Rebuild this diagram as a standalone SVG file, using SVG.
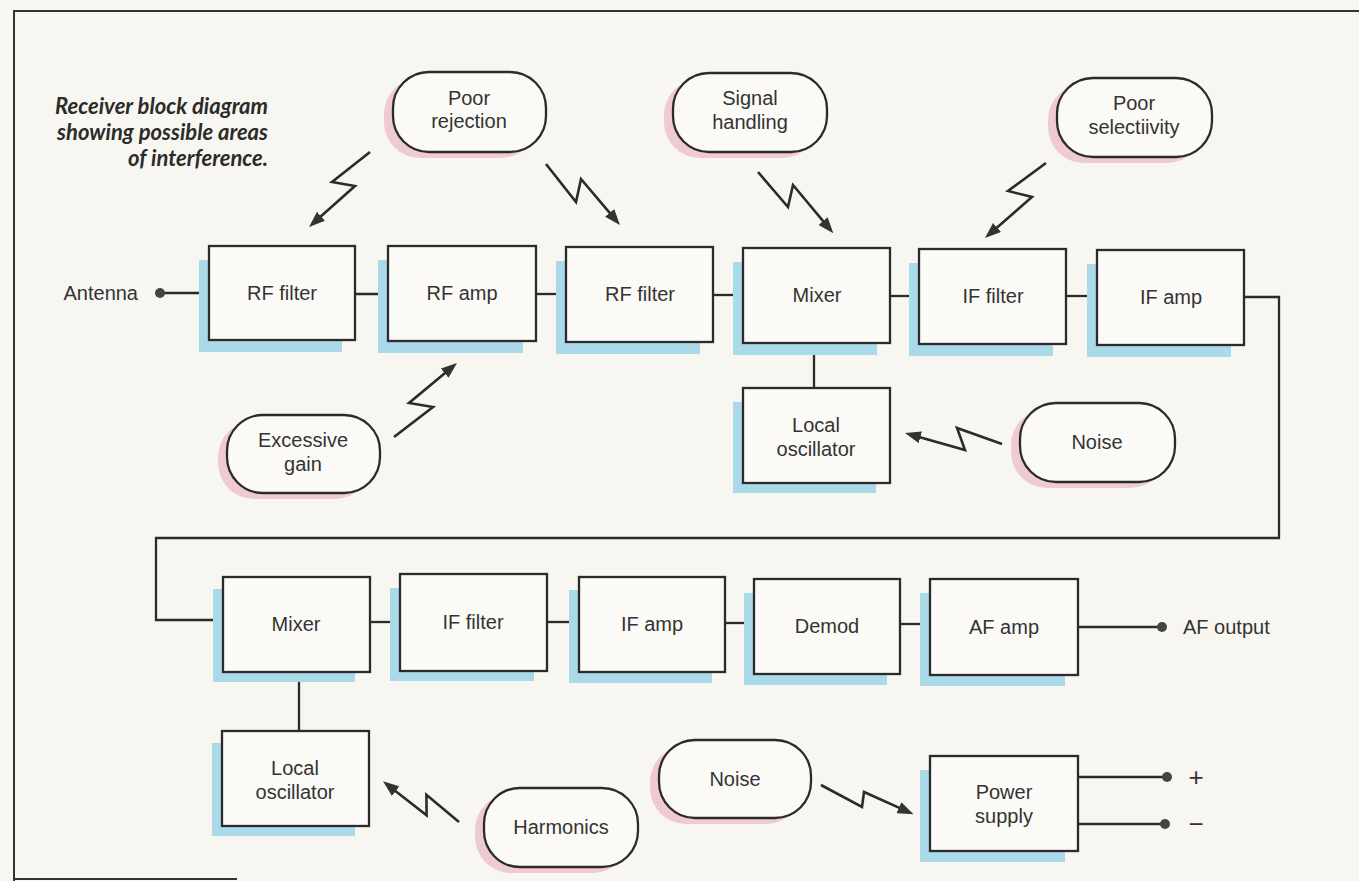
<svg xmlns="http://www.w3.org/2000/svg" width="1359" height="881" viewBox="0 0 1359 881">
<defs>
<marker id="ah" viewBox="0 0 16 12" refX="6" refY="6" markerWidth="16" markerHeight="12" markerUnits="userSpaceOnUse" orient="auto">
<path d="M0,0 L16,6 L0,12 z" fill="#333"/>
</marker>
</defs>
<style>
.bg{fill:#f8f6f1}
.frame{fill:none;stroke:#333;stroke-width:2}
.box{fill:#fbfaf7;stroke:#2b2b2b;stroke-width:2.3}
.sh{fill:#aad9e9}
.pill{fill:#fbfaf7;stroke:#2b2b2b;stroke-width:2.3}
.psh{fill:#f0cad2}
.t{font-family:"Liberation Sans",Arial,sans-serif;font-size:20px;fill:#333;text-anchor:middle}
.tl{font-family:"Liberation Sans",Arial,sans-serif;font-size:20px;fill:#333}
.title{font-family:Lato,"Open Sans",sans-serif;font-size:22px;font-weight:bold;font-style:italic;fill:#2b2b2b;text-anchor:end}
.w{fill:none;stroke:#2b2b2b;stroke-width:2.3}
.bolt{fill:none;stroke:#2b2b2b;stroke-width:2.6;stroke-linejoin:miter;marker-end:url(#ah)}
.dot{fill:#444}
</style>
<rect class="bg" x="0" y="0" width="1359" height="881"/>
<g id="frame">
<path class="frame" d="M1359,11 H14 V881"/>
<path class="frame" d="M14,879 H237"/>
</g>
<g id="title">
<text class="title" x="268" y="114">Receiver block diagram</text>
<text class="title" x="268" y="140">showing possible areas</text>
<text class="title" x="268" y="166">of interference.</text>
</g>
<g id="connectors">
<path class="w" d="M160,293 H209"/>
<path class="w" d="M355,294 H388"/>
<path class="w" d="M536,294 H566"/>
<path class="w" d="M713,295 H743"/>
<path class="w" d="M890,296 H919"/>
<path class="w" d="M1066,296 H1097"/>
<path class="w" d="M1244,297 H1279 V538 H156 V620 H223"/>
<path class="w" d="M814,343 V388"/>
<path class="w" d="M370,622 H400"/>
<path class="w" d="M547,622 H579"/>
<path class="w" d="M725,623 H754"/>
<path class="w" d="M900,624 H930"/>
<path class="w" d="M1078,627 H1162"/>
<path class="w" d="M299,672 V731"/>
<path class="w" d="M1078,777 H1167"/>
<path class="w" d="M1078,824 H1165"/>
<circle class="dot" cx="160" cy="293" r="5"/>
<circle class="dot" cx="1162" cy="627" r="5"/>
<circle class="dot" cx="1167" cy="777" r="5"/>
<circle class="dot" cx="1165" cy="824" r="5"/>
<polyline class="bolt" points="370,152 332,182 355,186 316.5,220.3"/>
<polyline class="bolt" points="546,164 576,202 581,179 613.5,217.4"/>
<polyline class="bolt" points="758,172 788,207 793,185 826.9,225.6"/>
<polyline class="bolt" points="1046,163 1008,191 1032,197 992.5,231.4"/>
<polyline class="bolt" points="394,437 433,407 409,403 449.3,369.4"/>
<polyline class="bolt" points="1002,444 957,428 965,450 914.6,435.7"/>
<polyline class="bolt" points="459,822 426.4,794.8 426.6,815.3 390.9,787.5"/>
<polyline class="bolt" points="821,785 862,807 864,792 904.4,810.1"/>
</g>
<g id="lbl-antenna"><text class="tl" x="138" y="300" text-anchor="end">Antenna</text></g>
<g id="lbl-afout"><text class="tl" x="1183" y="634">AF output</text></g>
<g id="lbl-plus"><text class="t" x="1196" y="786" style="font-size:26px">+</text></g>
<g id="lbl-minus"><text class="t" x="1196" y="833" style="font-size:26px">−</text></g>

<g id="rf-filter-1"><rect class="sh" x="199" y="260" width="143" height="92"/><rect class="box" x="209" y="246" width="146" height="94"/><text class="t" x="282" y="300">RF filter</text></g>
<g id="rf-amp"><rect class="sh" x="378" y="260" width="145" height="93"/><rect class="box" x="388" y="246" width="148" height="95"/><text class="t" x="462" y="300">RF amp</text></g>
<g id="rf-filter-2"><rect class="sh" x="556" y="261" width="144" height="93"/><rect class="box" x="566" y="247" width="147" height="95"/><text class="t" x="640" y="301">RF filter</text></g>
<g id="mixer-1"><rect class="sh" x="733" y="262" width="144" height="93"/><rect class="box" x="743" y="248" width="147" height="95"/><text class="t" x="817" y="302">Mixer</text></g>
<g id="if-filter-1"><rect class="sh" x="909" y="263" width="144" height="93"/><rect class="box" x="919" y="249" width="147" height="95"/><text class="t" x="993" y="303">IF filter</text></g>
<g id="if-amp-1"><rect class="sh" x="1087" y="264" width="144" height="93"/><rect class="box" x="1097" y="250" width="147" height="95"/><text class="t" x="1171" y="304">IF amp</text></g>
<g id="local-osc-1"><rect class="sh" x="733" y="402" width="143" height="91"/><rect class="box" x="743" y="388" width="147" height="95"/><text class="t" x="816" y="432">Local</text><text class="t" x="816" y="456">oscillator</text></g>

<g id="mixer-2"><rect class="sh" x="213" y="589" width="142" height="93"/><rect class="box" x="223" y="577" width="147" height="95"/><text class="t" x="296" y="631">Mixer</text></g>
<g id="if-filter-2"><rect class="sh" x="390" y="588" width="144" height="93"/><rect class="box" x="400" y="574" width="147" height="97"/><text class="t" x="473" y="629">IF filter</text></g>
<g id="if-amp-2"><rect class="sh" x="569" y="590" width="143" height="93"/><rect class="box" x="579" y="577" width="146" height="95"/><text class="t" x="652" y="631">IF amp</text></g>
<g id="demod"><rect class="sh" x="744" y="593" width="143" height="92"/><rect class="box" x="754" y="579" width="146" height="95"/><text class="t" x="827" y="633">Demod</text></g>
<g id="af-amp"><rect class="sh" x="920" y="593" width="145" height="93"/><rect class="box" x="930" y="579" width="148" height="96"/><text class="t" x="1004" y="634">AF amp</text></g>
<g id="local-osc-2"><rect class="sh" x="212" y="743" width="143" height="93"/><rect class="box" x="222" y="731" width="147" height="95"/><text class="t" x="295" y="775">Local</text><text class="t" x="295" y="799">oscillator</text></g>
<g id="power-supply"><rect class="sh" x="920" y="770" width="145" height="92"/><rect class="box" x="930" y="756" width="148" height="95"/><text class="t" x="1004" y="799">Power</text><text class="t" x="1004" y="823">supply</text></g>

<g id="poor-rejection"><rect class="psh" x="384" y="78" width="153" height="80" rx="36"/><rect class="pill" x="393" y="72" width="153" height="80" rx="36"/><text class="t" x="469" y="105">Poor</text><text class="t" x="469" y="128">rejection</text></g>
<g id="signal-handling"><rect class="psh" x="664" y="79" width="154" height="79" rx="36"/><rect class="pill" x="673" y="73" width="154" height="79" rx="36"/><text class="t" x="750" y="105">Signal</text><text class="t" x="750" y="129">handling</text></g>
<g id="poor-selectivity"><rect class="psh" x="1048" y="84" width="155" height="79" rx="36"/><rect class="pill" x="1057" y="78" width="155" height="79" rx="36"/><text class="t" x="1134" y="110">Poor</text><text class="t" x="1134" y="134">selectiivity</text></g>
<g id="excessive-gain"><rect class="psh" x="218" y="421" width="153" height="78" rx="36"/><rect class="pill" x="227" y="415" width="153" height="78" rx="36"/><text class="t" x="303" y="447">Excessive</text><text class="t" x="303" y="471">gain</text></g>
<g id="noise-1"><rect class="psh" x="1011" y="409" width="155" height="79" rx="36"/><rect class="pill" x="1020" y="403" width="155" height="79" rx="36"/><text class="t" x="1097" y="449">Noise</text></g>
<g id="harmonics"><rect class="psh" x="475" y="794" width="154" height="79" rx="36"/><rect class="pill" x="484" y="788" width="154" height="79" rx="36"/><text class="t" x="561" y="834">Harmonics</text></g>
<g id="noise-2"><rect class="psh" x="650" y="746" width="152" height="78" rx="36"/><rect class="pill" x="659" y="740" width="152" height="78" rx="36"/><text class="t" x="735" y="786">Noise</text></g>
</svg>
